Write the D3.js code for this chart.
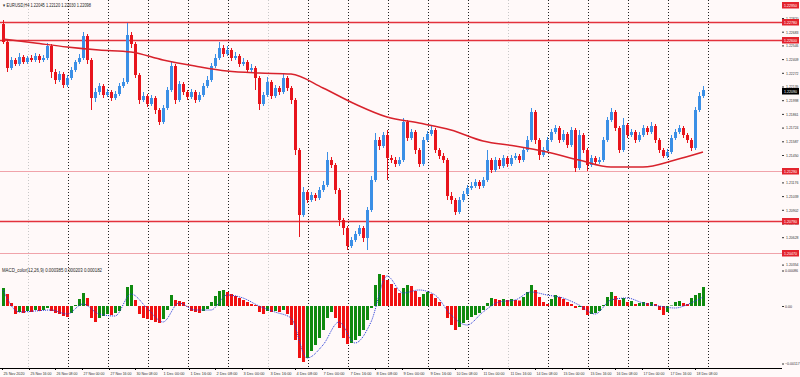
<!DOCTYPE html>
<html>
<head>
<meta charset="utf-8">
<script src="https://cdn.jsdelivr.net/npm/d3@7"></script>
<style>
  body { margin: 0; background: #fff9f9; }
  svg { display: block; }
  text { font-family: "Liberation Sans", Arial, sans-serif; }
</style>
</head>
<body>
<svg id="chart"></svg>
<script>
// prices are kept in points above 1.20000 (1 point = 0.0001)
const firstOpen = 276;
const closePts = [258,232,240,236,243,238,242,240,244,240,242,254,228,220,226,215,222,230,238,242,
  264,240,202,208,214,205,208,202,206,214,218,265,256,225,200,204,196,202,190,178,
  192,210,234,200,216,208,203,208,200,205,214,220,234,242,252,246,250,242,244,236,
  238,230,232,222,196,205,218,204,212,208,222,212,200,150,85,108,100,105,102,110,
  115,140,135,110,80,72,54,60,66,72,62,90,120,160,154,165,142,140,136,140,
  178,162,168,150,136,160,166,170,150,144,140,104,100,88,100,106,112,114,118,114,
  120,140,130,140,134,142,136,142,144,140,150,160,188,160,145,150,160,168,172,160,
  166,155,170,132,165,150,135,142,138,140,160,180,188,172,150,175,165,168,160,165,
  172,168,174,160,150,144,148,162,168,172,165,160,152,190,204,210];
const highPts = [280,260,243,242,247,245,244,245,247,246,245,257,256,231,229,228,225,233,240,246,
  268,266,242,212,217,216,211,210,209,217,222,277,268,258,227,208,206,205,204,192,
  195,213,238,236,219,218,210,211,210,208,217,224,237,246,258,255,254,252,248,246,
  242,240,236,234,224,208,223,220,215,214,227,224,214,202,152,113,110,108,107,113,
  119,148,143,137,112,82,74,63,69,75,74,93,124,167,163,168,170,145,143,143,
  182,180,171,170,152,163,169,174,172,152,147,142,108,102,103,109,115,118,121,120,
  123,150,142,143,142,145,144,145,147,146,153,164,192,190,162,153,163,171,175,174,
  170,168,173,172,170,167,152,145,144,143,163,183,192,190,174,182,177,171,170,168,
  175,174,178,176,162,152,151,165,171,175,174,167,162,193,208,214];
const lowPts = [256,228,230,234,234,236,236,238,238,237,238,240,222,216,218,212,213,220,228,236,
  240,236,190,198,205,202,203,199,200,204,212,216,252,222,196,198,193,194,186,175,
  176,190,208,196,198,205,200,201,197,198,203,212,218,232,240,243,244,239,240,233,
  234,227,228,210,190,194,203,201,202,205,206,209,196,145,63,83,97,98,99,100,
  108,113,132,106,74,65,50,52,58,64,58,50,88,118,150,152,120,137,133,134,
  138,159,160,146,133,134,158,164,147,141,137,100,96,85,86,98,104,110,112,111,
  112,118,127,128,131,132,133,134,140,137,138,148,158,156,140,143,148,158,166,157,
  158,152,153,128,130,147,129,133,135,136,138,158,178,169,147,148,162,163,157,158,
  163,165,166,157,147,142,142,146,160,166,162,157,149,150,188,202];

// moving average read every 8 bars
const maIdx = [0,8,16,24,32,40,48,56,64,72,80,88,96,104,112,120,128,136,144,152,160,168,175];
const maPts = [261,257,253,250,248,240,234,229,227,226,212,196,183,177,170,159,154,148,140,133,133,140,148];

// horizontal levels (price)
const levels = [1.2278, 1.2260, 1.2129, 1.2079, 1.2047];
const levelStrong = [true, true, false, true, false];
const topAlert = 1.2295;
const lastPrice = 1.2209;

const priceTicks = [1.22820,1.22683,1.22546,1.22409,1.22272,1.22135,1.21998,1.21861,1.21724,1.21587,
  1.21450,1.21313,1.21176,1.21039,1.20902,1.20765,1.20628,1.20491,1.20354];

// MACD histogram and signal, in units of 0.00001
const histPts = [36,24,6,-16,-12,-14,-10,-12,-8,-10,-8,-4,-10,-14,-16,-20,-22,-14,2,14,
  26,16,-24,-32,-24,-20,-16,-18,-14,-10,0,38,42,12,-16,-24,-26,-28,-32,-34,
  -26,-8,22,12,10,8,-1,-10,-12,-14,-10,-6,8,20,30,32,28,24,20,16,
  12,8,4,2,-12,-16,-10,-12,-10,-12,-8,-16,-38,-68,-104,-112,-104,-90,-78,-64,
  -48,-24,-12,-24,-44,-64,-76,-74,-68,-60,-48,-28,-4,42,64,62,52,44,36,26,
  36,42,40,30,18,24,28,24,16,8,0,-24,-38,-48,-42,-34,-28,-22,-18,-14,
  -8,6,16,14,12,14,12,14,12,11,18,28,42,32,18,8,4,14,22,18,
  14,8,4,-4,-2,-8,-18,-16,-14,-10,2,18,28,20,12,16,8,10,4,6,
  8,6,8,4,-8,-18,-12,1,8,10,6,4,16,22,26,38];
const sigIdx = [0,4,8,12,16,20,24,28,32,36,40,44,48,52,56,60,64,68,72,76,80,84,88,92,96,100,
  104,108,112,116,120,124,128,132,136,140,144,148,152,156,160,164,168,172,175];
const sigPts = [32,-12,-10,-8,-16,4,-16,-20,24,-4,-32,6,-8,-8,22,16,0,-12,-24,-104,-78,-32,-74,-32,60,26,
  32,22,-18,-38,-12,8,12,28,22,16,2,-16,12,16,6,0,-4,6,18];
const macdTicks = [0.00086, 0, -0.00117];

const timeLabels = ["25 Nov 2020","25 Nov 16:00","26 Nov 08:00","27 Nov 00:00","27 Nov 16:00","30 Nov 08:00",
  "1 Dec 00:00","1 Dec 16:00","2 Dec 08:00","3 Dec 00:00","3 Dec 16:00","4 Dec 08:00","7 Dec 00:00",
  "7 Dec 16:00","8 Dec 08:00","9 Dec 00:00","9 Dec 16:00","10 Dec 08:00","11 Dec 00:00","11 Dec 16:00",
  "14 Dec 08:00","15 Dec 00:00","15 Dec 16:00","16 Dec 08:00","17 Dec 00:00","17 Dec 16:00","18 Dec 08:00"];
const sepLight = [true,false,false,false,false,false,true,false,false,false,false,false,true,false,false,false,false,false];

const width = 800, height = 377;
const toPrice = p => 1.2 + p / 10000;
const fmt5 = d3.format(".5f");

const svg = d3.select("#chart").attr("width", width).attr("height", height);

const xScale = d3.scaleLinear().domain([0, 175]).range([3, 703]);
const yScale = d3.scaleLinear().domain([1.2034, 1.2300]).range([266, 0]);
const yMacd = d3.scaleLinear().domain([-0.00124, 0.00086]).range([368, 263]);

// period separators
svg.append("g").selectAll("line").data(sepLight).enter().append("line")
  .attr("x1", (d, i) => Math.round(xScale(6.25 + 10 * i)) + 0.5)
  .attr("x2", (d, i) => Math.round(xScale(6.25 + 10 * i)) + 0.5)
  .attr("y1", 0).attr("y2", 368)
  .attr("stroke", d => d ? "#c8c8c8" : "#222")
  .attr("stroke-dasharray", "1,2");

// horizontal levels
svg.append("g").selectAll("line").data(levels).enter().append("line")
  .attr("x1", 0).attr("x2", 782)
  .attr("y1", d => Math.round(yScale(d)) + 0.5)
  .attr("y2", d => Math.round(yScale(d)) + 0.5)
  .attr("stroke", (d, i) => levelStrong[i] ? "#e3323c" : "#f0a3aa")
  .attr("stroke-width", (d, i) => levelStrong[i] ? 1.3 : 1);

// candles
const candles = closePts.map((c, i) => ({
  i: i,
  o: toPrice(i === 0 ? firstOpen : closePts[i - 1]),
  c: toPrice(c),
  h: toPrice(highPts[i]),
  l: toPrice(lowPts[i])
}));
const cg = svg.append("g");
cg.selectAll("line").data(candles).enter().append("line")
  .attr("x1", d => Math.round(xScale(d.i)) + 0.5)
  .attr("x2", d => Math.round(xScale(d.i)) + 0.5)
  .attr("y1", d => yScale(d.h))
  .attr("y2", d => yScale(d.l))
  .attr("stroke", d => d.c >= d.o ? "#3b8fe6" : "#e8141c");
cg.selectAll("rect").data(candles).enter().append("rect")
  .attr("x", d => Math.round(xScale(d.i)) - 1)
  .attr("width", 3)
  .attr("y", d => yScale(Math.max(d.o, d.c)))
  .attr("height", d => Math.max(1, Math.abs(yScale(d.o) - yScale(d.c))))
  .attr("fill", d => d.c >= d.o ? "#3b8fe6" : "#e8141c");

// moving average
svg.append("path")
  .datum(maIdx.map((d, k) => [d, toPrice(maPts[k])]))
  .attr("fill", "none")
  .attr("stroke", "#d8222c")
  .attr("stroke-width", 1.5)
  .attr("d", d3.line().x(d => xScale(d[0])).y(d => yScale(d[1])).curve(d3.curveMonotoneX));

// MACD histogram
const hg = svg.append("g");
hg.selectAll("rect").data(histPts).enter().append("rect")
  .attr("x", (d, i) => Math.round(xScale(i)) - 1)
  .attr("width", 3)
  .attr("y", d => Math.min(yMacd(d / 1e5), yMacd(0)))
  .attr("height", d => Math.abs(yMacd(d / 1e5) - yMacd(0)))
  .attr("fill", (d, i) => (i === 0 || d >= histPts[i - 1]) ? "#0f8a0f" : "#f01010");

svg.append("path")
  .datum(sigIdx.map((d, k) => [d, sigPts[k] / 1e5]))
  .attr("fill", "none")
  .attr("stroke", "#2036d8")
  .attr("stroke-width", 1)
  .attr("stroke-dasharray", "1,1")
  .attr("d", d3.line().x(d => xScale(d[0])).y(d => yMacd(d[1])).curve(d3.curveMonotoneX));

// price axis
const yAxis = svg.append("g")
  .attr("transform", "translate(782,0)")
  .call(d3.axisRight(yScale).tickValues(priceTicks).tickSize(2).tickPadding(2).tickFormat(fmt5));
yAxis.select(".domain").remove();
yAxis.selectAll("text").attr("font-size", 4.2).attr("fill", "#333")
  .attr("textLength", 12.5).attr("lengthAdjust", "spacingAndGlyphs");
yAxis.selectAll("line").attr("stroke", "#333");

const mAxis = svg.append("g")
  .attr("transform", "translate(782,0)")
  .call(d3.axisRight(yMacd).tickValues(macdTicks).tickSize(2).tickPadding(1)
    .tickFormat(d => d === 0 ? "0.00" : fmt5(d)));
mAxis.select(".domain").remove();
mAxis.selectAll("text").attr("font-size", 3.6).attr("fill", "#333");
mAxis.selectAll(".tick").filter(d => d > 0).attr("transform", "translate(0,271)");
mAxis.selectAll(".tick").filter(d => d < 0).attr("transform", "translate(0,364)");
mAxis.selectAll("line").attr("stroke", "#333");

// price tags
const tags = levels.map(d => ({ v: d, bg: "#e3232d" }))
  .concat([{ v: topAlert, bg: "#e3232d" }, { v: lastPrice, bg: "#000" }]);
const tg = svg.append("g").selectAll("g").data(tags).enter().append("g")
  .attr("transform", d => "translate(782," + (Math.round(yScale(d.v)) - 3) + ")");
tg.append("rect").attr("width", 17).attr("height", 6.5).attr("fill", d => d.bg);
tg.append("text").attr("x", 2).attr("y", 5).attr("font-size", 4.2).attr("fill", "#fff")
  .attr("textLength", 13).attr("lengthAdjust", "spacingAndGlyphs")
  .text(d => fmt5(d.v));

// time axis
svg.append("line").attr("x1", 0).attr("x2", 782).attr("y1", 368.5).attr("y2", 368.5)
  .attr("stroke", "#000");
const tx = svg.append("g").selectAll("g").data(timeLabels).enter().append("g")
  .attr("transform", (d, i) => "translate(" + (Math.round(xScale(i * 20 / 3 - 0.25)) + 0.5) + ",368)");
tx.append("line").attr("y1", 0).attr("y2", 2).attr("stroke", "#000");
tx.append("text").attr("x", 1).attr("y", 6.5).attr("font-size", 4.2).attr("fill", "#333")
  .attr("textLength", 21).attr("lengthAdjust", "spacingAndGlyphs")
  .text(d => d);

// titles
svg.append("text").attr("x", 3).attr("y", 7).attr("font-size", 4.8).attr("fill", "#222")
  .attr("textLength", 88).attr("lengthAdjust", "spacingAndGlyphs")
  .text("\u25BE EURUSD,H4  1.22045 1.22120 1.22030 1.22098");
svg.append("text").attr("x", 2).attr("y", 272).attr("font-size", 4.5).attr("fill", "#222")
  .attr("textLength", 100).attr("lengthAdjust", "spacingAndGlyphs")
  .text("MACD_color(12,26,9) 0.000385 0.000203 0.000182");
</script>
</body>
</html>
